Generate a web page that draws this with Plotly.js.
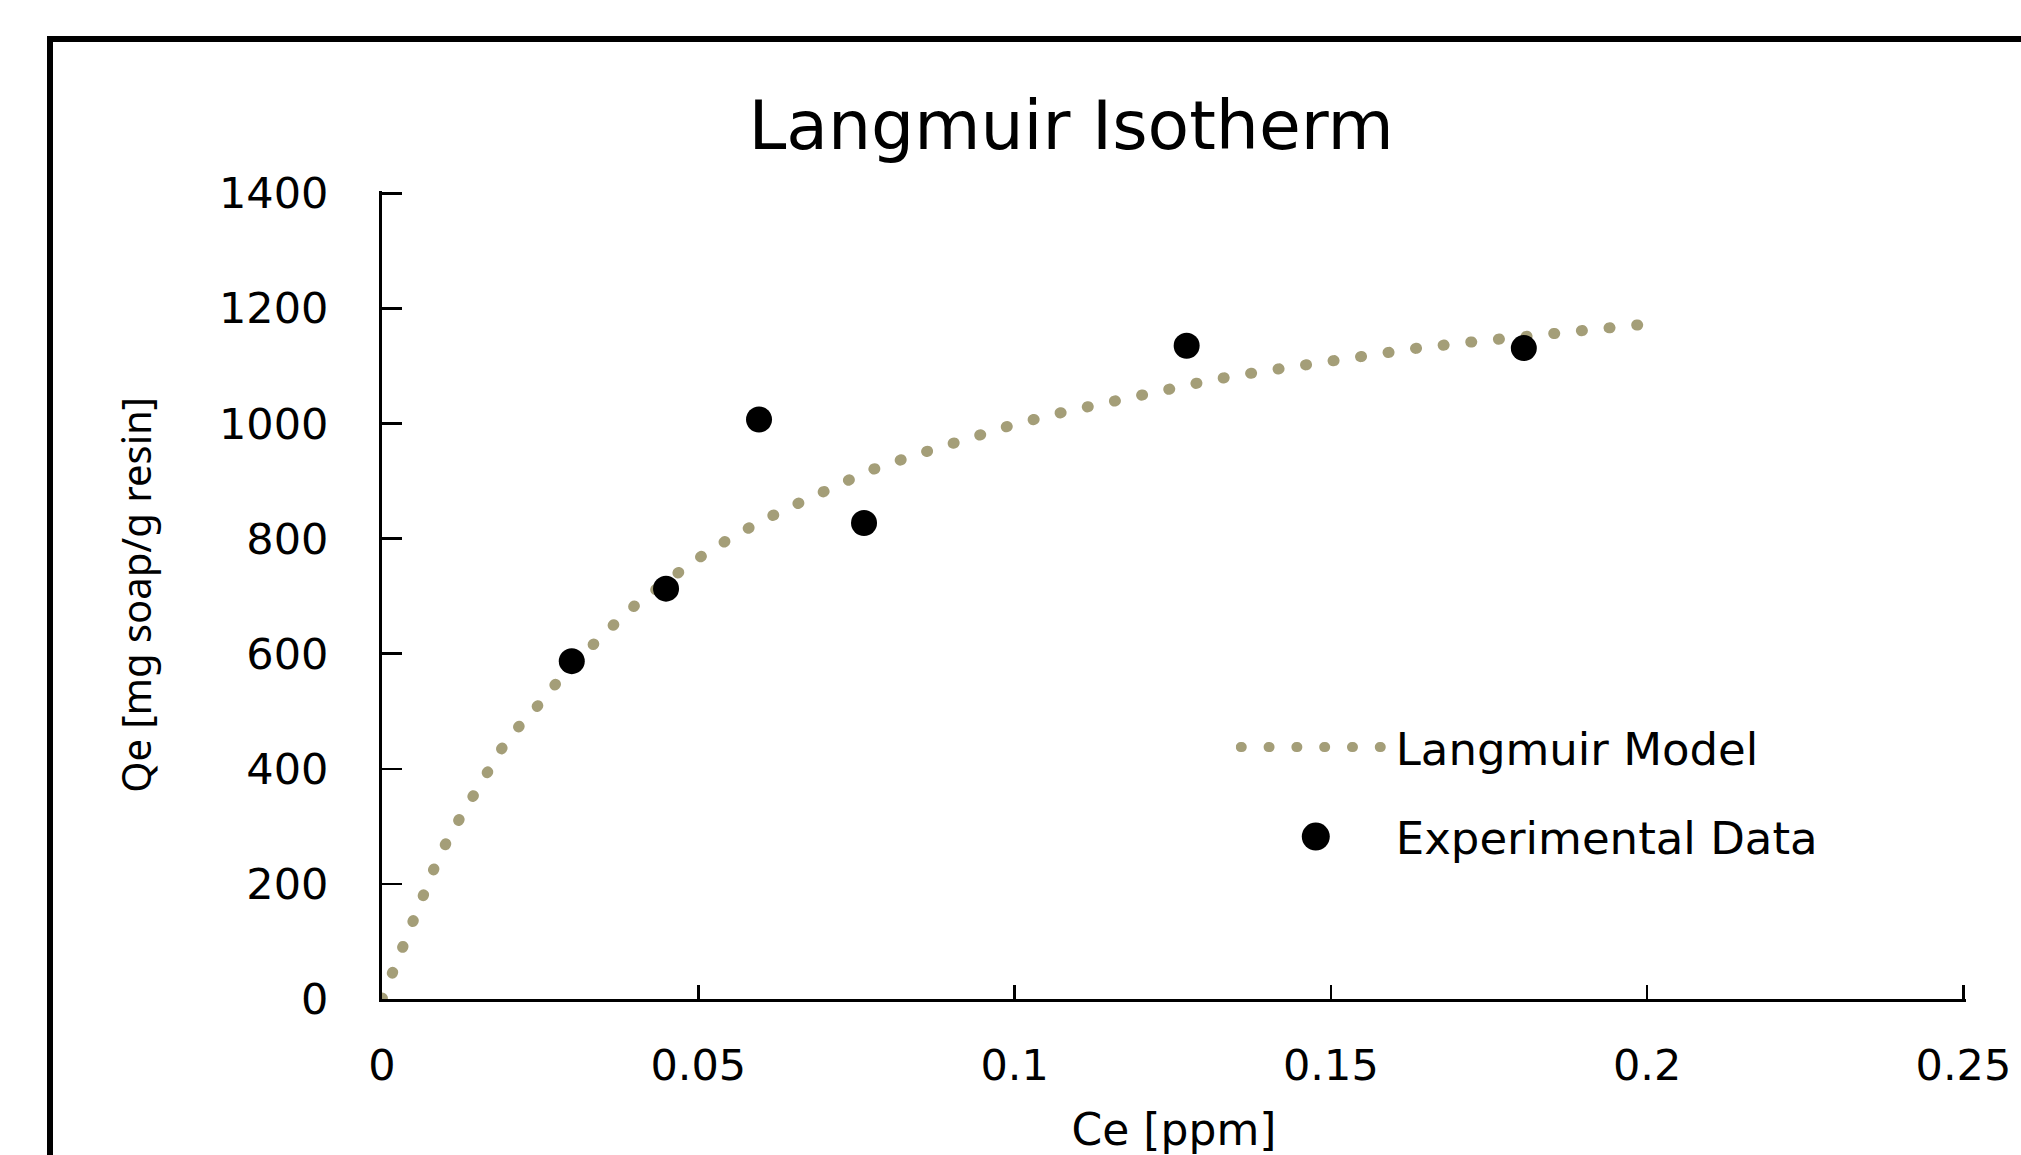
<!DOCTYPE html>
<html>
<head>
<meta charset="utf-8">
<script src="https://cdn.plot.ly/plotly-3.0.1.min.js"></script>
<style>
  html, body { margin: 0; padding: 0; background: #ffffff; overflow: hidden; }
  #chart { width: 2021px; height: 1155px; }
  #frame { position: absolute; left: 47px; top: 36px; width: 2300px; height: 1400px;
           border: 6px solid #000; box-sizing: border-box; pointer-events: none; z-index: 5; }
  path.js-line { stroke-linecap: round; }
  .legend .legendpoints { transform-box: fill-box; transform-origin: center; transform: scale(1.75); }
</style>
</head>
<body>
<div id="chart"></div>
<div id="frame"></div>
<script>
// Langmuir model curve
const modelCe = [0, 0.0038, 0.0065, 0.009, 0.0124, 0.0162, 0.0198, 0.0245, 0.027, 0.0346, 0.0402, 0.0493, 0.0558, 0.0628, 0.0698, 0.077, 0.0845, 0.0922, 0.0998, 0.1078, 0.1157, 0.1236, 0.1313, 0.1394, 0.1475, 0.1555, 0.1637, 0.1716, 0.1799, 0.1878, 0.2];
const modelQe = [0, 104, 176, 248, 316, 383, 451, 508, 542, 630, 686, 761, 806, 846, 882, 918, 946, 974, 998, 1020, 1040, 1058, 1076, 1091, 1105, 1117, 1131, 1141, 1150, 1159, 1173];

// Experimental data points
const expCe = [0.0300, 0.0449, 0.0596, 0.0762, 0.1272, 0.1805];
const expQe = [587, 713, 1007, 827, 1135, 1131];

const xTickVals = [0, 0.05, 0.1, 0.15, 0.2, 0.25];
const xTickText = ['0', '0.05', '0.1', '0.15', '0.2', '0.25'];
const yTickVals = [0, 200, 400, 600, 800, 1000, 1200, 1400];

const FONT = 'DejaVu Sans, Verdana, sans-serif';
const xRange = [0, 0.2504];
const yRange = [0, 1404];

const traces = [
  {
    x: modelCe, y: modelQe, name: 'Langmuir Model', type: 'scatter', mode: 'lines',
    legendgroup: 'a',
    line: { color: '#a49e78', width: 11, dash: '1px,26.8px' }
  },
  {
    x: expCe, y: expQe, name: 'Experimental Data', type: 'scatter', mode: 'markers',
    legendgroup: 'b',
    marker: { color: '#000000', size: 26, symbol: 'circle' }
  },
  // empty trace so the overlay tick-mark axes get drawn
  {
    x: [], y: [], type: 'scatter', mode: 'markers', xaxis: 'x2', yaxis: 'y2',
    showlegend: false, hoverinfo: 'skip'
  }
];

const layout = {
  width: 2021, height: 1155,
  paper_bgcolor: '#ffffff', plot_bgcolor: '#ffffff',
  margin: { l: 382, r: 55, t: 191, b: 156, pad: 0 },
  hovermode: false,
  font: { family: FONT, color: '#000000', size: 43 },
  title: {
    text: 'Langmuir Isotherm',
    font: { family: FONT, size: 68, color: '#000000' },
    x: 0.530, xref: 'container', xanchor: 'center',
    y: 0.892, yref: 'container', yanchor: 'middle'
  },
  // main axes: axis lines, tick labels and titles
  xaxis: {
    range: xRange, tickvals: xTickVals, ticktext: xTickText,
    showgrid: false, zeroline: false,
    showline: true, linecolor: '#000000', linewidth: 3,
    ticks: 'outside', ticklen: 26, tickwidth: 1, tickcolor: 'rgba(0,0,0,0)',
    tickfont: { family: FONT, size: 43, color: '#000000' },
    title: { text: 'Ce [ppm]', font: { family: FONT, size: 44, color: '#000000' }, standoff: 28 }
  },
  yaxis: {
    range: yRange, tickvals: yTickVals,
    showgrid: false, zeroline: false,
    showline: true, linecolor: '#000000', linewidth: 3,
    ticks: 'outside', ticklen: 42, tickwidth: 1, tickcolor: 'rgba(0,0,0,0)',
    tickfont: { family: FONT, size: 43, color: '#000000' },
    title: { text: 'Qe [mg soap/g resin]', font: { family: 'Noto Sans, sans-serif', size: 40, color: '#000000' }, standoff: 55 }
  },
  // overlay axes: the inner tick marks
  xaxis2: {
    overlaying: 'x', anchor: 'y2', side: 'bottom',
    range: xRange, tickvals: xTickVals,
    showgrid: false, zeroline: false, showline: false, showticklabels: false,
    ticks: 'inside', ticklen: 14, tickwidth: 2.5, tickcolor: '#000000'
  },
  yaxis2: {
    overlaying: 'y', anchor: 'x2', side: 'left',
    range: yRange, tickvals: yTickVals,
    showgrid: false, zeroline: false, showline: false, showticklabels: false,
    ticks: 'inside', ticklen: 20, tickwidth: 2.5, tickcolor: '#000000'
  },
  showlegend: true,
  legend: {
    x: 0.539, xanchor: 'left', y: 0.356, yanchor: 'top',
    bgcolor: 'rgba(0,0,0,0)', borderwidth: 0,
    font: { family: FONT, size: 45, color: '#000000' },
    itemwidth: 150, itemsizing: 'trace', tracegroupgap: 28,
    traceorder: 'grouped'
  }
};

Plotly.newPlot('chart', traces, layout, { displayModeBar: false, staticPlot: true });
</script>
</body>
</html>
